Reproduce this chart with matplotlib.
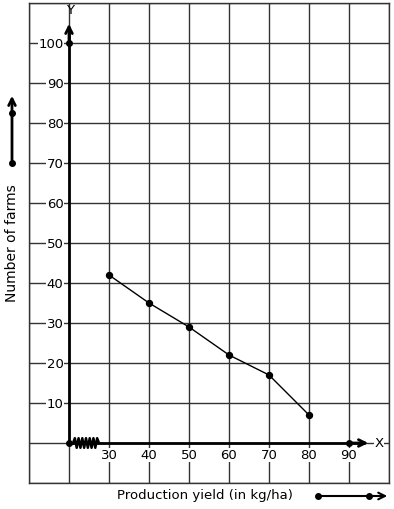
import matplotlib
matplotlib.use("Agg")
import matplotlib.pyplot as plt
import numpy as np

# data
yield_vals = [30, 40, 50, 60, 70, 80]
farms = [42, 35, 29, 22, 17, 7]
x_ticks = [30, 40, 50, 60, 70, 80, 90]
y_ticks = [10, 20, 30, 40, 50, 60, 70, 80, 90, 100]

W, H = 394, 510
fig = plt.figure(figsize=(W / 100, H / 100), dpi=100)
ax = fig.add_axes([29 / W, 26 / H, 360 / W, 480 / H])
ax.set_xlim(10, 100)
ax.set_ylim(-10, 110)
ax.set_xticks(np.arange(10, 101, 10))
ax.set_yticks(np.arange(-10, 111, 10))
ax.tick_params(length=0, labelbottom=False, labelleft=False)
ax.grid(True, color="#333333", linewidth=1.0)
ax.set_axisbelow(True)
for s in ax.spines.values():
    s.set_color("#333333")
    s.set_linewidth(1.0)

# axes lines
ax.plot([20, 20], [0, 104], color="black", lw=2.0, zorder=4, solid_capstyle="butt")
ax.annotate("", xy=(20, 105.5), xytext=(20, 100), arrowprops=dict(arrowstyle="->", lw=2.0, color="black", mutation_scale=12), zorder=5)
ax.plot([20, 94], [0, 0], color="black", lw=2.0, zorder=4, solid_capstyle="butt")
ax.annotate("", xy=(95.5, 0), xytext=(90, 0), arrowprops=dict(arrowstyle="->", lw=2.0, color="black", mutation_scale=12), zorder=5)
ax.plot([20, 20, 90], [0, 100, 0], "o", color="black", ms=4, zorder=6)

# zigzag break
zx = np.linspace(21, 27.5, 15)
zy = np.array([0 if i in (0, 14) else (1.2 if i % 2 else -1.2) for i in range(15)])
ax.plot(zx, zy, color="black", lw=1.8, zorder=6)

ax.text(97.5, 0, "X", ha="center", va="center", fontsize=9.5, bbox=dict(fc="white", ec="none", pad=0.5), zorder=7)
ax.text(20.3, 108.3, "Y", ha="center", va="center", fontsize=9.5, zorder=7)

for t in y_ticks:
    ax.text(18.6, t, str(t), ha="right", va="center", fontsize=9.5,
            bbox=dict(fc="white", ec="none", pad=0.3), zorder=7)
for t in x_ticks:
    ax.text(t, -3.0, str(t), ha="center", va="center", fontsize=9.5,
            bbox=dict(fc="white", ec="none", pad=0.3), zorder=7)

# data line
ax.plot(yield_vals, farms, "-o", color="black", lw=1.0, ms=4.3, zorder=8)

# outer labels and arrows
fig.text(12 / W, 1 - 243 / H, "Number of farms", rotation=90, ha="center", va="center", fontsize=10)
fig.text(205 / W, 1 - 496 / H, "Production yield (in kg/ha)", ha="center", va="center", fontsize=9.5)

fig.add_artist(matplotlib.patches.FancyArrowPatch((12 / W, 1 - 164 / H), (12 / W, 1 - 94 / H),
    transform=fig.transFigure, arrowstyle="->", lw=2.0, color="black", mutation_scale=12))
fig.add_artist(matplotlib.lines.Line2D([12 / W, 12 / W], [1 - 164 / H, 1 - 114 / H], marker="o", ms=4, lw=0, color="black", transform=fig.transFigure))
fig.add_artist(matplotlib.patches.FancyArrowPatch((318 / W, 1 - 497 / H), (390 / W, 1 - 497 / H),
    transform=fig.transFigure, arrowstyle="->", lw=1.5, color="black", mutation_scale=12))
fig.add_artist(matplotlib.lines.Line2D([318 / W, 369 / W], [1 - 497 / H, 1 - 497 / H], marker="o", ms=4, lw=0, color="black", transform=fig.transFigure))

fig.savefig("out.png", dpi=100, facecolor="white")
